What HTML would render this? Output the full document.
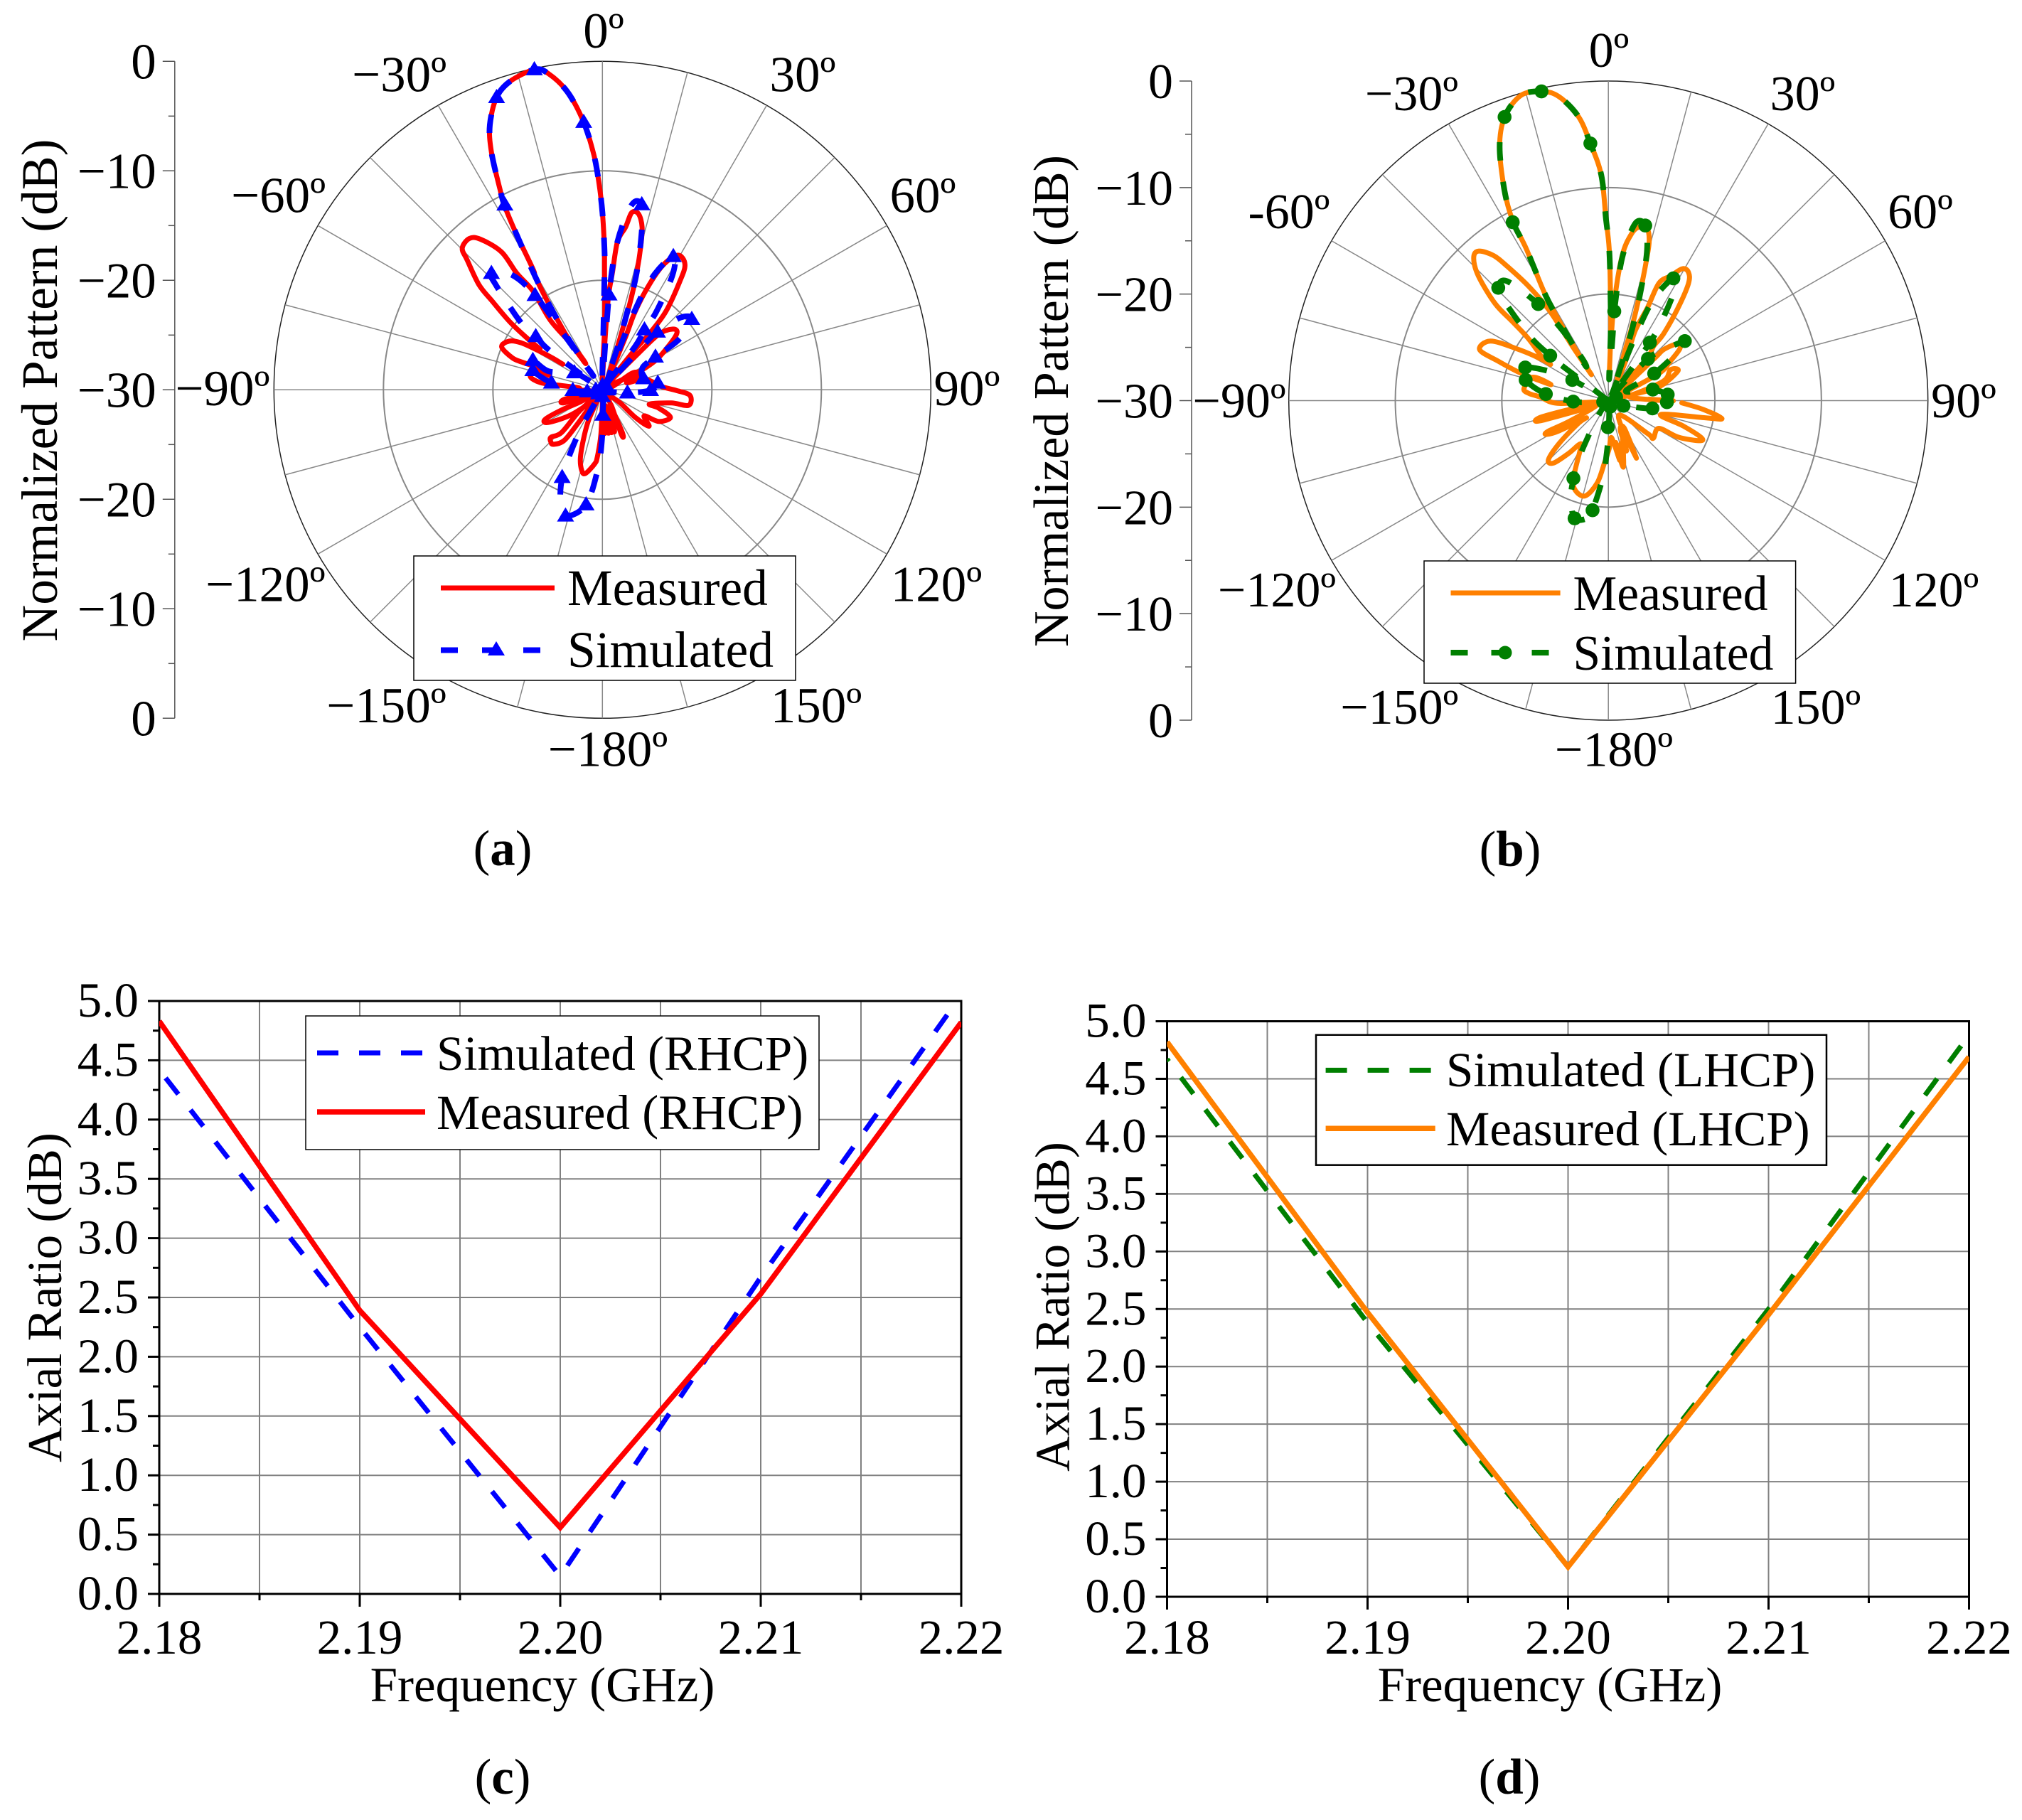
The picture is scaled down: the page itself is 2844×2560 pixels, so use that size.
<!DOCTYPE html>
<html lang="en">
<head>
<meta charset="utf-8">
<title>Radiation patterns and axial ratio</title>
<style>
html,body{margin:0;padding:0;background:#fff}
svg{display:block}
text{font-family:"Liberation Serif",serif;fill:#000}
</style>
</head>
<body>
<svg id="figure" xmlns="http://www.w3.org/2000/svg" width="2844" height="2560" viewBox="0 0 2844 2560">
<defs>
<clipPath id="clip-c"><rect x="224" y="1408" width="1128" height="834"/></clipPath>
<clipPath id="clip-d"><rect x="1641.5" y="1436.5" width="1128" height="809.5"/></clipPath>
</defs>
<rect x="0" y="0" width="2844" height="2560" fill="#fff"/>

<g id="panel-a">
<text x="80" y="549" font-size="71.5" text-anchor="middle" transform="rotate(-90 80 549)">Normalized Pattern (dB)</text>
<g font-size="71" text-anchor="middle">
<text x="849" y="67">0º</text>
<text x="1129" y="128.6">30º</text>
<text x="1298" y="298.5">60º</text>
<text x="1360" y="570">90º</text>
<text x="1317" y="845.6">120º</text>
<text x="1148" y="1016">150º</text>
<text x="855" y="1077.5">−180º</text>
<text x="543.5" y="1016">−150º</text>
<text x="373.4" y="845.6">−120º</text>
<text x="313" y="570">−90º</text>
<text x="391.6" y="298.5">−60º</text>
<text x="561.6" y="128.6">−30º</text>
</g>
<g id="plot-a"></g>
<g>
<rect x="582" y="782" width="537" height="175" fill="#fff" stroke="#000" stroke-width="1.5"/>
<line x1="620" y1="827" x2="780" y2="827" stroke="#ff0000" stroke-width="7"/>
<line x1="620" y1="914.5" x2="780" y2="914.5" stroke="#0000ff" stroke-width="8" stroke-dasharray="24 34"/>
<polygon points="698,902 710,922 686,922" fill="#0000ff"/>
<text x="798" y="851" font-size="71.5">Measured</text>
<text x="798" y="938" font-size="71.5">Simulated</text>
</g>
<text x="707" y="1217" font-size="71" text-anchor="middle">(<tspan font-weight="bold">a</tspan>)</text>
</g>

<g id="panel-b">
<text x="1502" y="564" font-size="70" text-anchor="middle" transform="rotate(-90 1502 564)">Normalized Pattern (dB)</text>
<g font-size="70" text-anchor="middle">
<text x="2263" y="94">0º</text>
<text x="2535.5" y="155">30º</text>
<text x="2701" y="321">60º</text>
<text x="2762" y="587">90º</text>
<text x="2720" y="853">120º</text>
<text x="2554" y="1018">150º</text>
<text x="2270" y="1077.5">−180º</text>
<text x="1968.3" y="1018">−150º</text>
<text x="1796" y="853">−120º</text>
<text x="1743" y="587">−90º</text>
<text x="1813" y="321">-60º</text>
<text x="1985.5" y="155">−30º</text>
</g>
<g id="plot-b"></g>
<g>
<rect x="2003" y="789" width="522.6" height="172" fill="#fff" stroke="#000" stroke-width="1.5"/>
<line x1="2040.5" y1="834" x2="2194.6" y2="834" stroke="#ff8000" stroke-width="7"/>
<line x1="2040.5" y1="918" x2="2194.6" y2="918" stroke="#007f00" stroke-width="8" stroke-dasharray="24 33"/>
<circle cx="2117" cy="918" r="9.5" fill="#007f00"/>
<text x="2212.5" y="858" font-size="69.5">Measured</text>
<text x="2212.5" y="942" font-size="69.5">Simulated</text>
</g>
<text x="2124" y="1218" font-size="71" text-anchor="middle">(<tspan font-weight="bold">b</tspan>)</text>
</g>

<g id="panel-c">
<text x="86" y="1825" font-size="69" text-anchor="middle" transform="rotate(-90 86 1825)">Axial Ratio (dB)</text>
<text x="763" y="2393" font-size="69" text-anchor="middle">Frequency (GHz)</text>
<g id="plot-c"></g>
<g>
<rect x="430" y="1429" width="722" height="188" fill="#fff" stroke="#000" stroke-width="1.5"/>
<line x1="446" y1="1481" x2="598" y2="1481" stroke="#0000ff" stroke-width="7" stroke-dasharray="30 29"/>
<line x1="446" y1="1564" x2="598" y2="1564" stroke="#ff0000" stroke-width="7.5"/>
<text x="614" y="1505" font-size="69">Simulated (RHCP)</text>
<text x="614" y="1588" font-size="69">Measured (RHCP)</text>
</g>
<text x="707" y="2523" font-size="71" text-anchor="middle">(<tspan font-weight="bold">c</tspan>)</text>
</g>

<g id="panel-d">
<text x="1503.6" y="1838" font-size="69" text-anchor="middle" transform="rotate(-90 1503.6 1838)">Axial Ratio (dB)</text>
<text x="2180" y="2393" font-size="69" text-anchor="middle">Frequency (GHz)</text>
<g id="plot-d"></g>
<g>
<rect x="1851" y="1455.7" width="718" height="183" fill="#fff" stroke="#000" stroke-width="2.5"/>
<line x1="1864.6" y1="1505.4" x2="2018.7" y2="1505.4" stroke="#007f00" stroke-width="7" stroke-dasharray="30 29"/>
<line x1="1864.6" y1="1587.3" x2="2018.7" y2="1587.3" stroke="#ff8000" stroke-width="7.5"/>
<text x="2034" y="1528" font-size="69">Simulated (LHCP)</text>
<text x="2034" y="1611" font-size="69">Measured (LHCP)</text>
</g>
<text x="2123" y="2523" font-size="71" text-anchor="middle">(<tspan font-weight="bold">d</tspan>)</text>
</g>
</svg>

<script>
// ---------- chart data ----------
const radialTicks = [0, -10, -20, -30, -20, -10, 0];
const radialLabels = ["0", "−10", "−20", "−30", "−20", "−10", "0"];
const ringLevels = [-20, -10, 0];

const measuredAnglesA = [
 0,3.3,3.9,4.9,5.8,8.1,9.4,11.6,13.7,15,16.4,17.6,18.3,19.8,27,
 23.6,22.7,24,26,29.3,33.4,35.6,39,40,39,40,
 43,44.6,45.4,49.3,53,57.4,61.4,64,60,
 72,60.6,67,74,76,86.8,90.4,93.6,100.2,100.8,106.9,108,112,119.3,122,128,130,126,
 145,155,157,150,164,168,168,172,172,176,177,178,
 -178,-175.6,-174,-168.5,-165.6,-162,-158.4,-155.5,-150,
 -143.8,-143.9,-143,-138,-135.4,-132.7,-136.3,-133,-134,
 -134,-127.8,-121,-117.3,-116.3,-118.6,
 -112,-108.7,-104,-105.6,-97,
 -90,-85,-84,-83.4,-79.5,-73.6,-74.9,-71,-71,-70.5,-66.9,-62.4,-60,-58.6,-57.5,-57.1,null,
 -56.8,-55.7,-53.7,-51.2,-49.6,-46.2,-44.7,-41.3,-39,-36.2,-36.3,-35.1,-36.8,-34.7,-33,
 -32.4,-33.7,-32,-30.7,-29.9,-28.9,-28,-27.1,-25,-23,-19.9,-16.7,-12,-9.7,-6.7,-4,-2.1,-1,0,0.8,1,2,0.5,0
];
const measuredDbA = [
 -29,-23.3,-21,-19.2,-16.4,-15,-13.6,-13.6,-14.7,-16.5,-19,-21.6,-23.9,-26.3,-29,
 -24.7,-22.3,-19.5,-17.3,-15.9,-16.3,-17.9,-20.8,-23.4,-25.3,-28.7,
 -28.5,-25.7,-22.8,-21.5,-21.5,-23.1,-24.6,-26.7,-29,
 -29,-26.9,-26.3,-27.7,-26,-24.6,-23.3,-22,-22,-23.6,-25.5,-24.6,-23.3,-24.1,-25.5,-24.6,-26.1,-28.2,
 -29,-25.7,-25.6,-28.5,-26,-28.5,-26,-28.5,-26,-28.5,-26,-29,
 -25.8,-23.8,-23.2,-22.2,-22.4,-23.5,-25.5,-27,-29.3,
 -27.7,-26.2,-24.2,-23.3,-23.3,-23.6,-24.6,-27,-29,
 -28,-26.1,-24.2,-24.1,-25.8,-27.7,
 -29,-26.3,-26.4,-28.4,-29,
 -27.9,-27.8,-26,-24.3,-23.3,-23.8,-25,-23.8,-22.4,-21.3,-20,-20.4,-21.4,-23.1,-24.6,-25.7,null,
 -23.2,-21.8,-19.5,-17.1,-15.2,-12.9,-11.8,-11.6,-12.3,-14.4,-16.8,-19,-22,-24.7,-27,
 -26.7,-24.4,-20.9,-18,-17.3,-13.7,-11,-9.5,-6,-3.7,-1.6,-0.6,-0.1,-0.7,-2.6,-5.5,-8.5,-11,-13.8,-17,-19,-24,-28,-30
];

const simulatedAnglesA = [
 170,179,-180,-177,-171.9,-163.7,-159,-155.3,-153.7,-150.8,-140,
 -97,-91,-82.3,-74.4,-67,-71,-58.5,-55,
 -53.4,-51.3,-50.4,-45.4,-43.6,-38.3,-35.5,-34.7,-33,
 -33.7,-32,-30.7,-28.9,-28,-27.1,-25,-23,-19.9,-16.7,-12,-9.7,-6.7,-4,-2.1,-1,0,0.8,1,1,1,
 4,5.8,9,12,13.7,16.4,18.3,19.8,30,
 22.2,24,28,31.4,34.6,35,37,40,
 42.7,43.6,47.2,51.7,56.6,58.2,61,
 74.8,82.9,90.6,96.8,110,150
];
const simulatedDbA = [
 -29.5,-27.7,-26,-23,-19.4,-18,-19.3,-21.2,-22.8,-25.9,-29.5,
 -28.6,-27.3,-25.3,-23.4,-23.1,-24.8,-27,-29,
 -24,-22.2,-20.3,-16.3,-15.3,-16.6,-19.4,-24.7,-28.5,
 -24.4,-20.9,-18,-13.7,-11,-9.5,-6,-3.7,-1.6,-0.6,-0.1,-0.7,-2.6,-5.5,-8.5,-11,-13.8,-17,-19,-24,-29,
 -21.3,-16.4,-12.9,-12.7,-14.7,-19,-23.9,-26.3,-29.5,
 -22.4,-18.7,-16.2,-17.7,-21.3,-23.3,-25,-29.5,
 -24.3,-22.7,-20.3,-19.6,-21.6,-24.3,-25.8,
 -26.1,-24.9,-25.6,-27.7,-29.5,-29.6
];
const markerAnglesA = [-27.8,-19.9,-4,12,28,-43.6,-35.5,4,51.7,35,43.6,-51.3,58.2,-67,-74.4,-58.5,-82.3,-91,74.8,82.9,90.6,96.8,-97,179,-155.3,-171.9,-163.7,-12,0,90,180,-90,45,-135];
const markerDbA = [-10.9,-1.6,-5.5,-12.7,-16.2,-15.3,-19.4,-21.3,-19.6,-23.3,-22.7,-22.2,-24.3,-23.1,-23.4,-27,-25.3,-27.3,-26.1,-24.9,-25.6,-27.7,-28.6,-27.7,-21.2,-19.4,-18,-0.1,-29.6,-29.6,-29.4,-29.4,-29.5,-29.5];

const measuredAnglesB = [
 2.5,3.3,5.4,7.9,10.2,12.6,14.4,15.3,16.4,17.6,18.4,24.6,
 23.5,21,22.8,23.3,26.6,29.3,32,34.4,37,39.6,39.7,42.5,50,
 47.5,47.3,50.7,54,57.5,61.8,65,
 76,70.4,63.6,66.9,75,78,
 88.6,90.2,88,null,
 91.7,95.4,99,100,104.8,108.7,111.5,113.6,117.6,118.8,130,130,146,
 154,150,158,160,163.6,165,158,167.3,170,169.3,175,179,
 -176.3,-172.3,-166.4,-160,-155.8,-149.8,-146.6,
 -143,-138.7,-134.6,-131,-127,
 -127.7,-121.6,-118.7,-117,-118,-115,
 -110,-106.5,-103.8,-102.5,-98,
 -93,-87,-84.8,-81.9,-72.7,-74.5,-72.7,-70.3,-68.4,-63.2,-60.5,-58.3,-58,null,
 -57.4,-52.2,-50.5,-49.4,-46.2,-43.4,-41,-38.4,-37,-34.9,-33.2,-33.5,-33,
 -33.3,-32.5,-31.6,-30.7,-28.4,-28,-26.3,-23.2,-20.1,-16,-12.2,-9.2,-6,-4,-1.8,-0.8,0.3,1,2,2
];
const measuredDbB = [
 -25,-21.1,-16.4,-14.2,-13.4,-13.4,-14.6,-16.7,-19.5,-22.4,-24.9,-28.2,
 -25.9,-23,-20.6,-18,-16.9,-15.8,-15.8,-16.7,-19.2,-21.9,-23.3,-24.7,-29,
 -24.2,-22.9,-21.6,-21.7,-23.1,-24.6,-28.5,
 -27.7,-24.5,-23.5,-22.9,-25.1,-28,
 -26.1,-23.9,-26.2,null,
 -23.1,-21,-19.2,-20.7,-24.9,-22.6,-20.7,-20.6,-22.6,-24.6,-24.5,-25.2,-28.3,
 -24,-27,-27,-25,-25.8,-24.5,-26.5,-23.6,-26,-24.3,-26.5,-25.5,
 -24.1,-22.2,-20.8,-21,-22,-24.8,-25.1,
 -23.8,-22.2,-22.1,-23.9,-26.5,
 -27.3,-24.6,-23.4,-23.6,-25.8,-28.5,
 -28,-23.3,-23.5,-26.7,-29,
 -25.2,-23.6,-22.5,-22,-22.6,-24.4,-21.5,-19,-17,-17.6,-20.1,-22.5,-23.6,null,
 -22.7,-20.5,-18.3,-16,-13.1,-11.6,-11.4,-12.6,-14.2,-16.9,-20,-24,-27,
 -26.1,-23.9,-21,-18.3,-13.8,-10.9,-8,-4.1,-1.65,-0.2,-0.3,-1.1,-3.2,-5.8,-8.8,-12.8,-15.7,-19.3,-23.5,-28
];

const simulatedAnglesB = [
 170,179,-179.3,-176,-171.8,-170,-164,-159,-155.8,-153,-148.4,-130,
 -104,-95,-91.6,-84,-76,-68.3,-63,-60.2,-59,-55,
 -53,-52.3,-50.8,-46.6,-44.3,-40.3,-36,-33.1,-31.8,
 -33.3,-32.5,-31.6,-30.7,-28.4,-28.1,-26.3,-23.2,-20.1,-16,-12.2,-9.2,-6,-4,-1.8,-0.8,0.3,1,2,2,
 3.8,3.8,5.5,8.6,11.9,14.4,16.3,18.5,20.6,30,
 22.7,24.1,28,31,34.3,35.6,35.9,40,
 41,43.5,44.9,52.1,54.5,59.4,60.6,
 73,76,84.2,91.5,100,108.6,150
];
const simulatedDbB = [
 -29.5,-27.5,-26,-22.9,-19.6,-18.8,-18.5,-20.2,-22,-23.8,-27.4,-29.6,
 -29.5,-28.5,-26.7,-24.1,-22,-21.6,-24.1,-26.1,-28,-29.5,
 -24.2,-23.1,-20.6,-16.8,-15.2,-15.3,-18.8,-22.2,-25.5,
 -26.1,-23.9,-21,-18.3,-13.8,-11,-8,-4.1,-1.65,-0.2,-0.3,-1.1,-3.2,-5.8,-8.8,-12.8,-15.7,-19.3,-23.5,-28,
 -23.9,-21.6,-16.6,-13.2,-13.2,-15.4,-19,-23.1,-27.3,-29.5,
 -23.2,-19.5,-17,-18,-21.4,-23.3,-25.1,-29.5,
 -27.7,-24.6,-23.8,-20.9,-21.6,-25,-28.1,
 -26.7,-25.7,-24.4,-24.5,-25.8,-28.5,-29.6
];
const markerAnglesB = [-28.2,-20.1,-4,-12.2,11.9,28,-44.3,-36,3.8,52.1,35.6,43.5,-52.3,59.4,-68.3,-76,-60.2,-84,-91.6,76,84.2,91.5,100,108.6,66,-104,163,-179,-155.8,-171.8,-164];
const markerDbB = [-11,-1.65,-5.8,-0.3,-13.2,-17,-15.2,-18.8,-21.6,-20.9,-23.3,-24.6,-23.1,-25,-21.6,-22,-26.1,-24.1,-26.7,-25.7,-24.4,-24.5,-25.8,-28.5,-29.2,-29.5,-29.4,-27.5,-22,-19.6,-18.5];

const frequencies = [2.18, 2.19, 2.20, 2.21, 2.22];
const simulatedRatioC = [4.42, 2.25, 0.15, 2.67, 5.05];
const measuredRatioC = [4.83, 2.39, 0.56, 2.53, 4.82];
const simulatedRatioD = [4.67, 2.38, 0.26, 2.50, 4.88];
const measuredRatioD = [4.82, 2.47, 0.26, 2.45, 4.69];
const xTickValues = [2.18, 2.19, 2.20, 2.21, 2.22];
const xTickLabels = ["2.18", "2.19", "2.20", "2.21", "2.22"];
const yTickValues = [0, 0.5, 1, 1.5, 2, 2.5, 3, 3.5, 4, 4.5, 5];
const yTickLabels = ["0.0", "0.5", "1.0", "1.5", "2.0", "2.5", "3.0", "3.5", "4.0", "4.5", "5.0"];

// ---------- drawing helpers ----------
const NS = 'http://www.w3.org/2000/svg';
function make(tag, attrs, parent) {
  const el = document.createElementNS(NS, tag);
  for (const k in attrs) el.setAttribute(k, attrs[k]);
  parent.appendChild(el);
  return el;
}
function smoothPath(pts) {
  if (!pts.length) return '';
  let d = 'M' + pts[0][0].toFixed(1) + ' ' + pts[0][1].toFixed(1);
  for (let i = 0; i < pts.length - 1; i++) {
    const p0 = pts[i - 1] || pts[i], p1 = pts[i], p2 = pts[i + 1], p3 = pts[i + 2] || p2;
    const c1x = p1[0] + (p2[0] - p0[0]) / 6, c1y = p1[1] + (p2[1] - p0[1]) / 6;
    const c2x = p2[0] - (p3[0] - p1[0]) / 6, c2y = p2[1] - (p3[1] - p1[1]) / 6;
    d += 'C' + c1x.toFixed(1) + ' ' + c1y.toFixed(1) + ' ' + c2x.toFixed(1) + ' ' + c2y.toFixed(1) + ' ' + p2[0].toFixed(1) + ' ' + p2[1].toFixed(1);
  }
  return d;
}
function polarAxis(cx, cy, R) {
  return function (angle, db) {
    const r = R * (db + 30) / 30, a = angle * Math.PI / 180;
    return [cx + r * Math.sin(a), cy - r * Math.cos(a)];
  };
}
function polarSeriesPath(axis, angles, dbs) {
  let d = '', run = [];
  const n = Math.min(angles.length, dbs.length);
  for (let i = 0; i < n; i++) {
    if (angles[i] === null || dbs[i] === null) { d += smoothPath(run); run = []; continue; }
    run.push(axis(angles[i], dbs[i]));
  }
  return d + smoothPath(run);
}
function drawPolar(opts) {
  const host = document.getElementById(opts.id);
  const axis = polarAxis(opts.cx, opts.cy, opts.R);
  for (const level of ringLevels) {
    const ring = make('circle', {cx: opts.cx, cy: opts.cy, r: opts.R * (level + 30) / 30, fill: 'none',
      stroke: level === 0 ? '#222' : '#888', 'stroke-width': level === 0 ? 1.5 : 2}, host);
    
    
  }
  for (let a = 0; a < 360; a += 15) {
    const end = axis(a, 0);
    const spoke = make('line', {x1: opts.cx, y1: opts.cy, x2: end[0], y2: end[1], stroke: '#888', 'stroke-width': 1.5}, host);
    
    
  }
  const axisLine = make('line', {x1: opts.axisX, y1: opts.cy - opts.R, x2: opts.axisX, y2: opts.cy + opts.R, stroke: '#555', 'stroke-width': 1.5}, host);
  
  
  radialTicks.forEach(function (level, i) {
    const offset = opts.R * (level + 30) / 30;
    const y = i < 4 ? opts.cy - offset : opts.cy + offset;
    const tick = make('line', {x1: opts.axisX - 17, y1: y, x2: opts.axisX, y2: y, stroke: '#555', 'stroke-width': 1.5}, host);
    
    
    const label = make('text', {x: opts.axisX - 26, y: y + 24, 'font-size': opts.fontSize, 'text-anchor': 'end'}, host);
    label.textContent = radialLabels[i];
    
    
    if (i < radialTicks.length - 1) {
      const nextOffset = opts.R * (radialTicks[i + 1] + 30) / 30;
      const nextY = i + 1 < 4 ? opts.cy - nextOffset : opts.cy + nextOffset;
      const my = (y + nextY) / 2;
      const minor = make('line', {x1: opts.axisX - 9, y1: my, x2: opts.axisX, y2: my, stroke: '#555', 'stroke-width': 1.5}, host);
      
      
    }
  });
  const measured = make('path', {d: polarSeriesPath(axis, opts.measuredAngles, opts.measuredDb), fill: 'none', stroke: opts.measuredColor,
    'stroke-width': 7, 'stroke-linejoin': 'round', 'stroke-linecap': 'round'}, host);
  
  
  const simulated = make('path', {d: polarSeriesPath(axis, opts.simAngles, opts.simDb), fill: 'none', stroke: opts.simColor,
    'stroke-width': 8, 'stroke-dasharray': '26 30', 'stroke-linejoin': 'round'}, host);
  
  
  opts.markerAngles.forEach(function (angle, i) {
    const p = axis(angle, opts.markerDb[i]);
    let mark;
    if (opts.marker === 'triangle') {
      mark = make('polygon', {points: p[0] + ',' + (p[1] - 12) + ' ' + (p[0] + 12) + ',' + (p[1] + 8) + ' ' + (p[0] - 12) + ',' + (p[1] + 8), fill: opts.simColor}, host);
    } else {
      mark = make('circle', {cx: p[0], cy: p[1], r: 9.8, fill: opts.simColor}, host);
    }
    
    
  });
}
function drawRatio(opts) {
  const host = document.getElementById(opts.id);
  const xs = function (f) { return opts.x0 + (f - 2.18) / 0.04 * (opts.x1 - opts.x0); };
  const ys = function (v) { return opts.y1 - v / 5 * (opts.y1 - opts.y0); };
  for (let k = 0; k <= 8; k++) {
    const x = xs(2.18 + k * 0.005);
    if (k > 0 && k < 8) {
      const g = make('line', {x1: x, y1: opts.y0, x2: x, y2: opts.y1, stroke: '#808080', 'stroke-width': 2}, host);
      
      
    }
    if (k % 2 === 1) {
      const m = make('line', {x1: x, y1: opts.y1, x2: x, y2: opts.y1 + 9, stroke: '#000', 'stroke-width': 3}, host);
      
      
    }
  }
  yTickValues.forEach(function (v, i) {
    const y = ys(v);
    if (i > 0 && i < yTickValues.length - 1) {
      const g = make('line', {x1: opts.x0, y1: y, x2: opts.x1, y2: y, stroke: '#808080', 'stroke-width': 2}, host);
      
      
    }
    const t = make('line', {x1: opts.x0 - 16, y1: y, x2: opts.x0, y2: y, stroke: '#000', 'stroke-width': 3}, host);
    
    
    const label = make('text', {x: opts.x0 - 29, y: y + 22, 'font-size': 69, 'text-anchor': 'end'}, host);
    label.textContent = yTickLabels[i];
    
    
    if (i < yTickValues.length - 1) {
      const my = ys(v + 0.25);
      const m = make('line', {x1: opts.x0 - 9, y1: my, x2: opts.x0, y2: my, stroke: '#000', 'stroke-width': 3}, host);
      
      
    }
  });
  xTickValues.forEach(function (f, i) {
    const x = xs(f);
    const t = make('line', {x1: x, y1: opts.y1, x2: x, y2: opts.y1 + 18, stroke: '#000', 'stroke-width': 3}, host);
    
    
    const label = make('text', {x: x, y: 2326, 'font-size': 69, 'text-anchor': 'middle'}, host);
    label.textContent = xTickLabels[i];
    
    
  });
  const frame = make('rect', {x: opts.x0, y: opts.y0, width: opts.x1 - opts.x0, height: opts.y1 - opts.y0, fill: 'none', stroke: '#000', 'stroke-width': 3}, host);
  
  
  const toPoints = function (values) {
    return frequencies.map(function (f, i) { return xs(f).toFixed(1) + ',' + ys(values[i]).toFixed(1); }).join(' ');
  };
  const sim = make('polyline', {points: toPoints(opts.simulated), fill: 'none', stroke: opts.simColor, 'stroke-width': 7,
    'stroke-dasharray': '29 28', 'stroke-dashoffset': opts.dashOffset, 'clip-path': 'url(#' + opts.clip + ')'}, host);
  
  
  const meas = make('polyline', {points: toPoints(opts.measured), fill: 'none', stroke: opts.measuredColor, 'stroke-width': 7.5,
    'stroke-linejoin': 'miter', 'clip-path': 'url(#' + opts.clip + ')'}, host);
  
  
}

drawPolar({id: 'plot-a', cx: 847.3, cy: 548.3, R: 462, axisX: 245.8, fontSize: 71,
  measuredAngles: measuredAnglesA, measuredDb: measuredDbA, simAngles: simulatedAnglesA, simDb: simulatedDbA,
  markerAngles: markerAnglesA, markerDb: markerDbA, measuredColor: '#ff0000', simColor: '#0000ff', marker: 'triangle'});
drawPolar({id: 'plot-b', cx: 2262.2, cy: 563.5, R: 449.5, axisX: 1676, fontSize: 70,
  measuredAngles: measuredAnglesB, measuredDb: measuredDbB, simAngles: simulatedAnglesB, simDb: simulatedDbB,
  markerAngles: markerAnglesB, markerDb: markerDbB, measuredColor: '#ff8000', simColor: '#007f00', marker: 'circle'});
drawRatio({id: 'plot-c', x0: 224, x1: 1352, y0: 1408, y1: 2242, clip: 'clip-c', dashOffset: 42.4,
  simulated: simulatedRatioC, measured: measuredRatioC, simColor: '#0000ff', measuredColor: '#ff0000'});
drawRatio({id: 'plot-d', x0: 1641.5, x1: 2769.5, y0: 1436.5, y1: 2246, clip: 'clip-d', dashOffset: 25,
  simulated: simulatedRatioD, measured: measuredRatioD, simColor: '#007f00', measuredColor: '#ff8000'});
</script>
</body>
</html>
